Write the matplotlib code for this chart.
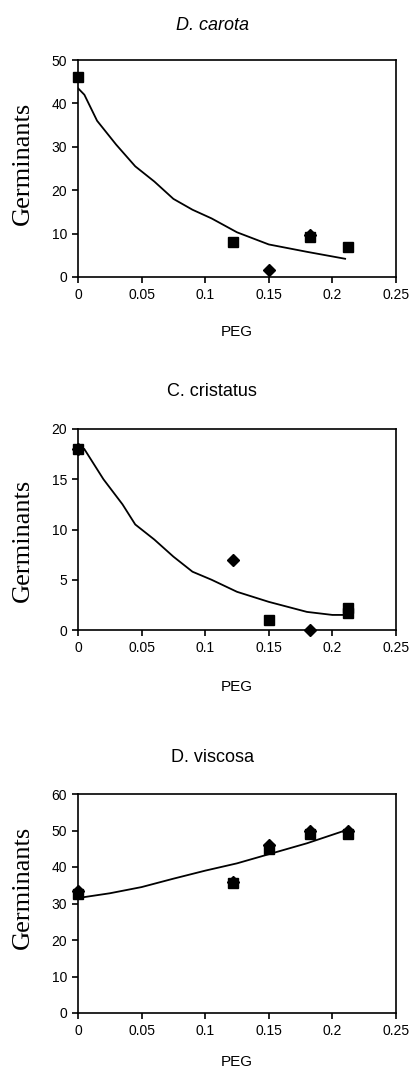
import matplotlib
matplotlib.use("Agg")
import matplotlib.pyplot as plt

# D. carota
carota_sq_x = [0, 0.122, 0.182, 0.212]
carota_sq_y = [46, 8, 9.2, 7]
carota_di_x = [0.15, 0.182]
carota_di_y = [1.5, 9.6]
carota_fit_x = [0, 0.005, 0.015, 0.03, 0.045, 0.06, 0.075, 0.09, 0.105, 0.125, 0.15, 0.18, 0.21]
carota_fit_y = [43.5, 42, 36, 30.5, 25.5, 22, 18, 15.5, 13.5, 10.3, 7.5, 5.8, 4.2]

# C. cristatus
crist_sq_x = [0, 0.15, 0.212, 0.212]
crist_sq_y = [18, 1, 2.2, 1.7]
crist_di_x = [0, 0.122, 0.182]
crist_di_y = [18, 7, 0]
crist_fit_x = [0, 0.005, 0.01, 0.02, 0.035, 0.045, 0.06, 0.075, 0.09, 0.105, 0.125, 0.15, 0.18, 0.2, 0.21]
crist_fit_y = [18.2, 18, 17, 15, 12.5, 10.5, 9, 7.3, 5.8, 5, 3.8, 2.8, 1.8, 1.5, 1.5]

# D. viscosa
visc_x = [0, 0.122, 0.15, 0.182, 0.212]
visc_sq_y = [32.5, 35.5, 45, 49, 49]
visc_di_y = [33.5, 36, 46, 50, 50]
visc_fit_x = [0, 0.025, 0.05, 0.075, 0.1, 0.125, 0.15, 0.18, 0.21]
visc_fit_y = [31.5, 32.8, 34.5, 36.8, 39, 41, 43.5, 46.5, 50]

titles = ["D. carota", "C. cristatus", "D. viscosa"]
ylims = [(0, 50, 10), (0, 20, 5), (0, 60, 10)]

fig = plt.figure(figsize=(4.11, 10.70), dpi=100)
H = 1070.0
W = 411.0
boxes = [(60, 277), (429, 630), (794, 1013)]
title_y = [25, 392, 757]
peg_y = [332, 687, 1062]
germ_y = [163, 540, 887]

series = [
    (carota_sq_x, carota_sq_y, carota_di_x, carota_di_y, carota_fit_x, carota_fit_y),
    (crist_sq_x, crist_sq_y, crist_di_x, crist_di_y, crist_fit_x, crist_fit_y),
    (visc_x, visc_sq_y, visc_x, visc_di_y, visc_fit_x, visc_fit_y),
]

for i, (top, bot) in enumerate(boxes):
    ax = fig.add_axes([78 / W, 1 - bot / H, (396 - 78) / W, (bot - top) / H])
    sx, sy, dx, dy, fx, fy = series[i]
    ax.plot(fx, fy, color="black", lw=1.3, zorder=2)
    ax.plot(sx, sy, ls="none", marker="s", ms=7, color="black", clip_on=False, zorder=3)
    ax.plot(dx, dy, ls="none", marker="D", ms=6, color="black", clip_on=False, zorder=3)
    ax.set_xlim(0, 0.25)
    lo, hi, step = ylims[i]
    ax.set_ylim(lo, hi)
    ax.set_xticks([0, 0.05, 0.1, 0.15, 0.2, 0.25])
    ax.set_xticklabels(["0", "0.05", "0.1", "0.15", "0.2", "0.25"])
    ax.set_yticks(list(range(lo, hi + 1, step)))
    for s in ax.spines.values():
        s.set_linewidth(1.2)
    ax.tick_params(direction="out", length=4, width=1.2, labelsize=10, pad=4)
    for lab in ax.get_xticklabels() + ax.get_yticklabels():
        lab.set_family("Liberation Sans")

    fig.text(212 / W, 1 - title_y[i] / H, titles[i], ha="center", va="center",
             fontsize=13, family="Liberation Sans", style="italic" if i == 0 else "normal")
    fig.text(237 / W, 1 - peg_y[i] / H, "PEG", ha="center", va="center",
             fontsize=11, family="Liberation Sans")
    fig.text(23 / W, 1 - germ_y[i] / H, "Germinants", ha="center", va="center",
             rotation=90, fontsize=19, family="Liberation Serif")

fig.savefig("out.png", dpi=100)
